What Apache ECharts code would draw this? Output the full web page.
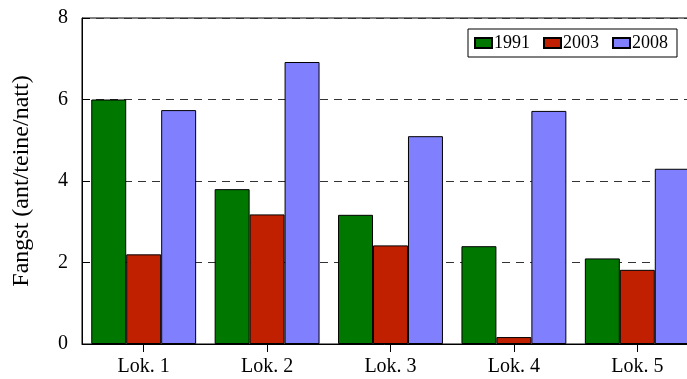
<!DOCTYPE html>
<html>
<head>
<meta charset="utf-8">
<script src="https://cdn.jsdelivr.net/npm/echarts@6/dist/echarts.min.js"></script>
<style>
  html, body { margin: 0; padding: 0; background: #fff; }
  #chart { width: 687px; height: 379px; }
</style>
</head>
<body>
<div id="chart"></div>
<script>
// Catch per location and survey year
const locations = ['Lok. 1', 'Lok. 2', 'Lok. 3', 'Lok. 4', 'Lok. 5'];
const years = ['1991', '2003', '2008'];
const catch1991 = [6.0, 3.8, 3.17, 2.4, 2.1];
const catch2003 = [2.2, 3.18, 2.42, 0.17, 1.82];
const catch2008 = [5.74, 6.92, 5.1, 5.72, 4.3];
const yTicks = [0, 2, 4, 6, 8];

const colors = ['#007800', '#c02000', '#8080ff'];
const seriesValues = [catch1991, catch2003, catch2008];
const serif = '"Liberation Serif", "DejaVu Serif", serif';

const chart = echarts.init(document.getElementById('chart'), null, { renderer: 'canvas' });

chart.setOption({
  animation: false,
  textStyle: { fontFamily: serif },
  // plot frame runs a little past the right edge of the canvas
  grid: {
    left: 82, top: 18, height: 326, width: 617,
    outerBoundsMode: 'none',
    containLabel: false,
    show: true, borderColor: '#000', borderWidth: 1
  },
  legend: {
    data: years,
    right: 10, top: 29,
    orient: 'horizontal',
    itemWidth: 17, itemHeight: 10, itemGap: 13,
    padding: [5, 9, 5, 6],
    borderColor: '#000', borderWidth: 1,
    backgroundColor: '#fff',
    textStyle: { fontFamily: serif, fontSize: 18, color: '#000', padding: [0, 0, 0, -3] },
    icon: 'rect'
  },
  xAxis: {
    type: 'category',
    data: locations,
    axisLine: { lineStyle: { color: '#000', width: 1 } },
    axisTick: { show: true, alignWithLabel: true, inside: false, length: 8, lineStyle: { color: '#000' } },
    axisLabel: { fontFamily: serif, fontSize: 20, color: '#000', margin: 13 },
    splitLine: { show: false }
  },
  yAxis: {
    type: 'value',
    min: yTicks[0], max: yTicks[yTicks.length - 1], interval: 2,
    name: 'Fangst (ant/teine/natt)',
    nameLocation: 'middle',
    nameGap: 48,
    nameTextStyle: { fontFamily: serif, fontSize: 24, color: '#000' },
    axisLine: { show: true, lineStyle: { color: '#000', width: 1 } },
    axisTick: { show: true, inside: true, length: 8, lineStyle: { color: '#000' } },
    axisLabel: { fontFamily: serif, fontSize: 20, color: '#000', margin: 14 },
    splitLine: { show: true, lineStyle: { color: '#333', type: [8, 6], width: 1 } }
  },
  series: years.map((y, i) => ({
    name: y,
    type: 'bar',
    data: seriesValues[i],
    barGap: '0%',
    barCategoryGap: '15%',
    itemStyle: { color: colors[i], borderColor: '#000', borderWidth: 1 }
  }))
});
</script>
</body>
</html>
